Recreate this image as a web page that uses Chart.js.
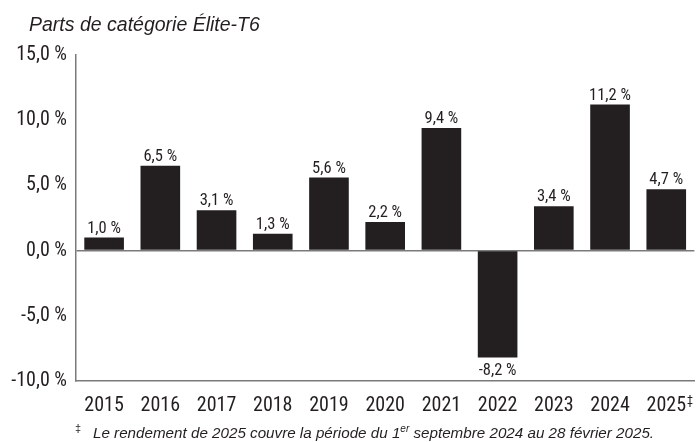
<!DOCTYPE html>
<html>
<head>
<meta charset="utf-8">
<script src="https://cdn.jsdelivr.net/npm/chart.js@4.4.1/dist/chart.umd.min.js"></script>
<style>
  body { margin: 0; background: #fff; }
  #wrap { width: 699px; height: 442px; position: relative; }
</style>
</head>
<body>
<div id="wrap"><canvas id="myChart"></canvas></div>
<script>
// data
const years = ["2015", "2016", "2017", "2018", "2019", "2020", "2021", "2022", "2023", "2024", "2025"];
const returns = [1.0, 6.5, 3.1, 1.3, 5.6, 2.2, 9.4, -8.2, 3.4, 11.2, 4.7];
const yTicks = [-10, -5, 0, 5, 10, 15];

// no narrow Arial here, so condensed Roboto (width axis) stands in
const NARROW = "Roboto, sans-serif";
const PLAIN = "'Liberation Sans', Arial, sans-serif";
const INK = "#231f20";
const AXIS = "#7a7a7a";

function pct(v) {
  return v.toFixed(1).replace(".", ",") + " %";
}

/******** labels over the bars ********/
const barLabels = {
  id: "barLabels",
  afterDatasetsDraw(chart) {
    const ctx = chart.ctx;
    const meta = chart.getDatasetMeta(0);
    ctx.save();
    ctx.font = "condensed 16.5px " + NARROW;
    ctx.fillStyle = INK;
    ctx.textAlign = "center";
    ctx.textBaseline = "alphabetic";
    meta.data.forEach(function(bar, i) {
      const v = returns[i];
      if (v >= 0) {
        ctx.fillText(pct(v), bar.x, bar.y - 5);
      } else {
        ctx.fillText(pct(v), bar.x, bar.y + 17);
      }
    });
    ctx.restore();
  }
};

/******** title, footnote, dagger ********/
const extras = {
  id: "extras",
  afterDraw(chart) {
    const ctx = chart.ctx;
    ctx.save();
    ctx.fillStyle = INK;
    ctx.textBaseline = "alphabetic";
    ctx.textAlign = "left";

    // title
    ctx.font = "italic 19.5px " + PLAIN;
    ctx.fillText("Parts de catégorie Élite-T6", 29, 31);

    // dagger after 2025 tick
    const xs = chart.scales.x;
    const last = years.length - 1;
    ctx.font = "condensed 20px " + NARROW;
    const w = ctx.measureText(years[last]).width;
    ctx.font = "condensed 12px " + NARROW;
    ctx.fillText("\u2021", xs.getPixelForValue(last) + w / 2 + 1, 404);

    // footnote
    let x = 75;
    const base = 438;
    ctx.font = "11px " + PLAIN;
    ctx.fillText("\u2021", x, base - 6);
    x = 93;
    const parts = [
      ["Le rendement de 2025 couvre la période du 1", false],
      ["er", true],
      [" septembre 2024 au 28 février 2025.", false]
    ];
    parts.forEach(function(p) {
      if (p[1]) {
        ctx.font = "italic 10px " + PLAIN;
        ctx.fillText(p[0], x, base - 6);
      } else {
        ctx.font = "italic 15.2px " + PLAIN;
        ctx.fillText(p[0], x, base);
      }
      x += ctx.measureText(p[0]).width;
    });
    ctx.restore();
  }
};

new Chart("myChart", {
  type: "bar",
  data: {
    labels: years,
    datasets: [{
      data: returns,
      backgroundColor: INK,
      borderWidth: 0,
      categoryPercentage: 1.0,
      barPercentage: 0.705
    }]
  },
  options: {
    responsive: true,
    maintainAspectRatio: false,
    animation: false,
    layout: { padding: { top: 55, left: 0, right: 0, bottom: 0 } },
    plugins: {
      legend: { display: false },
      title: { display: false },
      tooltip: { enabled: false }
    },
    scales: {
      x: {
        grid: { display: false, drawTicks: false },
        border: { display: true, color: AXIS, width: 1.5 },
        ticks: {
          color: INK,
          // the weight slot carries the stretch keyword into the canvas font string
          font: { family: NARROW, size: 20, weight: "condensed" },
          padding: 13,
          maxRotation: 0,
          autoSkip: false
        },
        afterFit: function(scale) { scale.height = 61; }
      },
      y: {
        min: -10,
        max: 15,
        afterBuildTicks: function(scale) {
          scale.ticks = yTicks.map(function(v) { return { value: v }; });
        },
        grid: {
          drawTicks: false,
          color: function(c) { return c.tick && c.tick.value === 0 ? AXIS : "rgba(0,0,0,0)"; },
          lineWidth: 1.5
        },
        border: { display: true, color: AXIS, width: 1.5 },
        ticks: {
          color: INK,
          font: { family: NARROW, size: 20, weight: "condensed" },
          padding: 9,
          callback: function(v) { return pct(v); }
        },
        afterFit: function(scale) { scale.width = 76; }
      }
    }
  },
  plugins: [barLabels, extras]
});
</script>
</body>
</html>
